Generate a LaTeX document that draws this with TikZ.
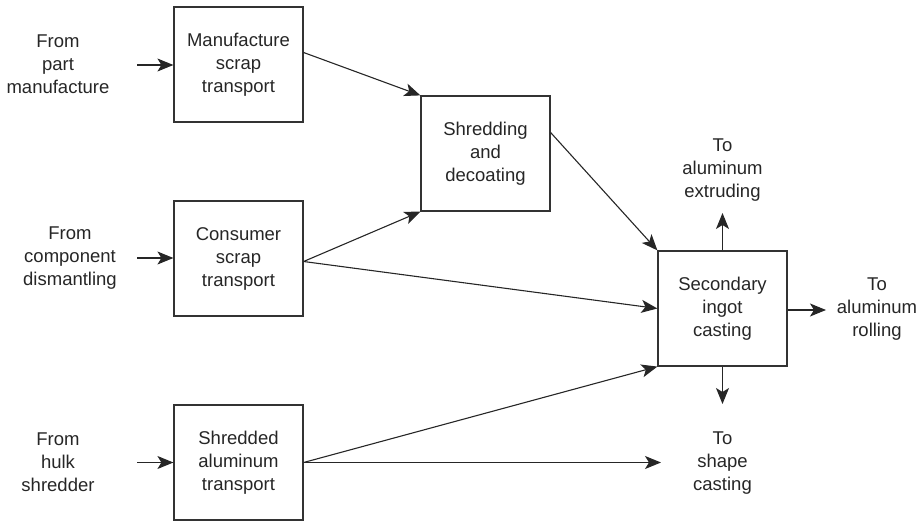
\documentclass[tikz,border=0pt]{standalone}
\usepackage{fontspec}
\setmainfont{Liberation Sans}
\usetikzlibrary{arrows.meta}
\begin{document}
\begin{tikzpicture}[x=1pt,y=-1pt,
  txt/.style={align=center,font=\fontsize{18.5}{23}\selectfont,text=black!85,inner sep=0pt},
  procbox/.style={txt,draw=black!80,line width=1.2pt,minimum width=129pt,minimum height=115pt},
  flow/.style={draw=black!85,line width=1.1pt,-{Stealth[length=16pt,width=13pt,inset=4pt]}}]
\useasboundingbox (0,0) rectangle (919,524);
% process boxes
\node[procbox] (manu) at (238.5,64.5) {Manufacture\\scrap\\transport};
\node[procbox] (cons) at (238.5,258.5) {Consumer\\scrap\\transport};
\node[procbox] (shal) at (238.5,462.5) {Shredded\\aluminum\\transport};
\node[procbox] (shred) at (485.5,153.5) {Shredding\\and\\decoating};
\node[procbox] (ingot) at (722.5,308.5) {Secondary\\ingot\\casting};
% sources
\node[txt] (src1) at (58,64) {From\\part\\manufacture};
\node[txt] (src2) at (70,258) {From\\component\\dismantling};
\node[txt] (src3) at (58,462) {From\\hulk\\shredder};
% destinations
\node[txt] (dst1) at (722.5,170) {To\\aluminum\\extruding};
\node[txt] (dst2) at (877,309) {To\\aluminum\\rolling};
\node[txt] (dst3) at (722.5,463) {To\\shape\\casting};
% connector end points
\coordinate (a1) at (137,65);
\coordinate (a2) at (137,258);
\coordinate (a3) at (137,462.5);
\coordinate (up) at (722.5,213);
\coordinate (rt) at (826,310);
\coordinate (dn) at (722.5,404);
\coordinate (sc) at (661,462.5);
% inputs
\draw[flow] (a1) -- (manu.west |- a1);
\draw[flow] (a2) -- (cons.west |- a2);
\draw[flow] (a3) -- (shal.west |- a3);
% internal flows
\draw[flow] ([yshift=12pt]manu.east) -- (shred.north west);
\draw[flow] ([yshift=-3pt]cons.east) -- (shred.south west);
\draw[flow] ([yshift=-3pt]cons.east) -- (ingot.west);
\draw[flow] ([yshift=21pt]shred.east) -- (ingot.north west);
\draw[flow] (shal.east) -- (ingot.south west);
\draw[flow] (shal.east) -- (sc);
% outputs
\draw[flow] (ingot.north) -- (up);
\draw[flow] (ingot.east |- rt) -- (rt);
\draw[flow] (ingot.south) -- (dn);
\end{tikzpicture}
\end{document}
